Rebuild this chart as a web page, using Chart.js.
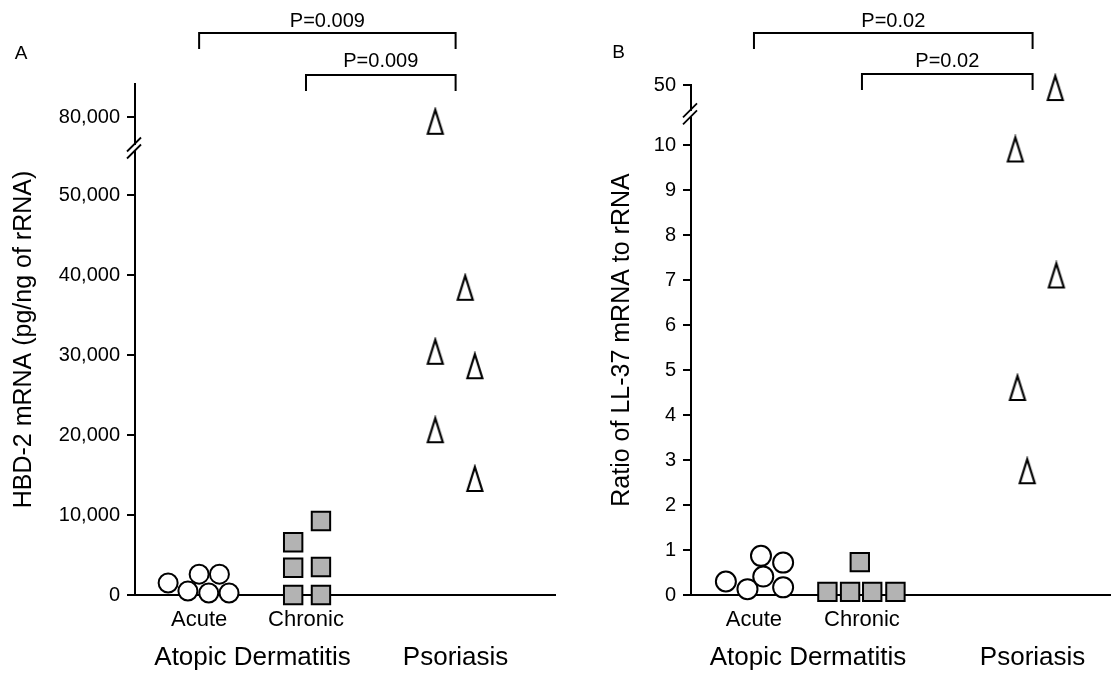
<!DOCTYPE html>
<html>
<head>
<meta charset="utf-8">
<script src="https://cdn.jsdelivr.net/npm/chart.js@4.4.1/dist/chart.umd.min.js"></script>
<style>
    html, body { margin: 0; padding: 0; background: #fff; }
    #caixaA { position: absolute; left: 0; top: 0; width: 556px; height: 675px; }
    #caixaB { position: absolute; left: 556px; top: 0; width: 555px; height: 675px; }
</style>
</head>
<body>
<div id="caixaA"><canvas id="graficoA"></canvas></div>
<div id="caixaB"><canvas id="graficoB"></canvas></div>
<script>

// ==========================
// Dados
// ==========================

const grupos = ["Acute", "Chronic", "Psoriasis"];

// Painel A - HBD-2 mRNA (pg/ng of rRNA)
const hbdAcute = [1500, 500, 2600, 250, 2600, 250];
const hbdAcuteDesvio = [-0.29, -0.105, 0, 0.09, 0.19, 0.28];
const hbdChronic = [6600, 3400, 0, 9250, 3500, 0];
const hbdChronicDesvio = [-0.12, -0.12, -0.12, 0.14, 0.14, 0.14];
const hbdPsoriasis = [79400, 38400, 30400, 28600, 20600, 14500];
const hbdPsoriasisDesvio = [-0.19, 0.09, -0.19, 0.18, -0.19, 0.18];
const ticksA = [0, 10000, 20000, 30000, 40000, 50000, 80000];

// Painel B - Ratio of LL-37 mRNA to rRNA
const llAcute = [0.30, 0.13, 0.87, 0.41, 0.72, 0.17];
const llAcuteDesvio = [-0.26, -0.06, 0.065, 0.086, 0.27, 0.27];
const llChronic = [0.07, 0.07, 0.73, 0.07, 0.07];
const llChronicDesvio = [-0.32, -0.11, -0.02, 0.095, 0.31];
const llPsoriasis = [48, 9.9, 7.1, 4.6, 2.75];
const llPsoriasisDesvio = [0.21, -0.16, 0.22, -0.14, -0.05];
const ticksB = [0, 1, 2, 3, 4, 5, 6, 7, 8, 9, 10, 50];

const fonte = "'Liberation Sans', Arial, Helvetica, sans-serif";

// eixo quebrado: acima da quebra os valores sao deslocados
function escalaA(v) {
    return v <= 50000 ? v : 59750 + (v - 80000);
}

function escalaB(v) {
    return v <= 10 ? v : 11.333 + (v - 50) / 30;
}

function criarTriangulo() {
    const c = document.createElement("canvas");
    c.width = 20;
    c.height = 30;
    const g = c.getContext("2d");
    g.lineWidth = 2.2;
    g.strokeStyle = "#000";
    g.fillStyle = "#fff";
    g.beginPath();
    g.moveTo(10, 3);
    g.lineTo(17.5, 27);
    g.lineTo(2.5, 27);
    g.closePath();
    g.fill();
    g.stroke();
    return c;
}

const triangulo = criarTriangulo();

function montarPontos(posicao, valores, desvios, escala) {
    return valores.map((v, i) => ({ x: posicao + desvios[i], y: escala(v) }));
}

function criarPainel(id, cfg) {

    const pos = cfg.posicoes;

    const anotacoes = {
        id: "anotacoes_" + id,
        afterDraw(chart) {
            const ctx = chart.ctx;
            const sx = chart.scales.x;
            const sy = chart.scales.y;
            ctx.save();
            ctx.strokeStyle = "#000";
            ctx.fillStyle = "#000";
            ctx.lineWidth = 2;

            // letra do painel
            ctx.font = "19px " + fonte;
            ctx.textAlign = "center";
            ctx.textBaseline = "middle";
            ctx.fillText(cfg.letra, cfg.letraX, cfg.letraY);

            // colchetes com valor de P
            ctx.font = "20px " + fonte;
            cfg.colchetes.forEach(b => {
                const x1 = sx.getPixelForValue(pos[b.de]);
                const x2 = sx.getPixelForValue(pos[b.ate]);
                ctx.beginPath();
                ctx.moveTo(x1, b.base);
                ctx.lineTo(x1, b.topo);
                ctx.lineTo(x2, b.topo);
                ctx.lineTo(x2, b.base);
                ctx.stroke();
                ctx.fillText(b.texto, (x1 + x2) / 2, b.textoY);
            });

            // rotulos das categorias
            ctx.font = "22px " + fonte;
            ctx.fillText(grupos[0], sx.getPixelForValue(pos[0]), 620);
            ctx.fillText(grupos[1], sx.getPixelForValue(pos[1]), 620);
            ctx.font = "26px " + fonte;
            ctx.fillText("Atopic Dermatitis", sx.getPixelForValue((pos[0] + pos[1]) / 2), 658);
            ctx.fillText(grupos[2], sx.getPixelForValue(pos[2]), 658);

            // quebra do eixo y
            const ax = sy.right - 1;
            const yq = sy.getPixelForValue(cfg.quebra);
            ctx.fillStyle = "#fff";
            ctx.fillRect(ax - 3, yq - 3, 6, 6);
            ctx.lineWidth = 1.8;
            [-3.5, 3.5].forEach(d => {
                ctx.beginPath();
                ctx.moveTo(ax - 7, yq + d + 7);
                ctx.lineTo(ax + 7, yq + d - 7);
                ctx.stroke();
            });
            ctx.restore();
        }
    };

    const ctx = document.getElementById(id).getContext("2d");

    return new Chart(ctx, {

        type: "scatter",

        data: {
            datasets: [
                {
                    data: montarPontos(pos[0], cfg.acute, cfg.acuteDesvio, cfg.escala),
                    pointStyle: "circle",
                    pointRadius: cfg.raioCirculo,
                    pointBackgroundColor: "#fff",
                    pointBorderColor: "#000",
                    pointBorderWidth: 2,
                    clip: false
                },
                {
                    data: montarPontos(pos[1], cfg.chronic, cfg.chronicDesvio, cfg.escala),
                    pointStyle: "rect",
                    pointRadius: 13,
                    pointBackgroundColor: "#b3b3b3",
                    pointBorderColor: "#000",
                    pointBorderWidth: 2,
                    clip: false
                },
                {
                    data: montarPontos(pos[2], cfg.psoriasis, cfg.psoriasisDesvio, cfg.escala),
                    pointStyle: triangulo,
                    pointRadius: 10,
                    clip: false
                }
            ]
        },

        options: {
            responsive: true,
            maintainAspectRatio: false,
            animation: false,
            events: [],
            layout: {
                autoPadding: false,
                padding: { top: cfg.topo, bottom: 80, left: 0, right: cfg.direita }
            },
            plugins: {
                legend: { display: false },
                tooltip: { enabled: false }
            },
            scales: {
                x: {
                    type: "linear",
                    min: cfg.xMin,
                    max: cfg.xMax,
                    ticks: { display: false },
                    grid: { display: false },
                    border: { display: true, color: "#000", width: 2 },
                    afterFit: s => { s.height = 0; }
                },
                y: {
                    type: "linear",
                    min: 0,
                    max: cfg.yMax,
                    afterBuildTicks: s => {
                        s.ticks = cfg.ticks.map(v => ({ value: cfg.escala(v) }));
                    },
                    afterFit: s => { s.width = 135; },
                    ticks: {
                        autoSkip: false,
                        color: "#000",
                        padding: 7,
                        font: { size: 20, family: fonte },
                        callback: (valor, i) => cfg.ticks[i].toLocaleString("en-US")
                    },
                    grid: {
                        drawOnChartArea: false,
                        drawTicks: true,
                        tickLength: 8,
                        color: "#000",
                        lineWidth: 2
                    },
                    border: { display: true, color: "#000", width: 2 },
                    title: {
                        display: true,
                        text: cfg.tituloY,
                        color: "#000",
                        font: { size: 25, family: fonte },
                        padding: { top: cfg.recuoTitulo, bottom: 0 }
                    }
                }
            }
        },

        plugins: [anotacoes]
    });
}

// ==========================
// Painel A
// ==========================

criarPainel("graficoA", {
    letra: "A", letraX: 21, letraY: 54,
    posicoes: [1, 2, 3.4],
    xMin: 0.40, xMax: 4.33,
    yMax: 63875,
    topo: 84, direita: 1,
    recuoTitulo: 9,
    escala: escalaA,
    ticks: ticksA,
    quebra: 55875,
    raioCirculo: 9.5,
    acute: hbdAcute, acuteDesvio: hbdAcuteDesvio,
    chronic: hbdChronic, chronicDesvio: hbdChronicDesvio,
    psoriasis: hbdPsoriasis, psoriasisDesvio: hbdPsoriasisDesvio,
    tituloY: "HBD-2 mRNA (pg/ng of rRNA)",
    colchetes: [
        { de: 0, ate: 2, topo: 33, base: 49, textoY: 21, texto: "P=0.009" },
        { de: 1, ate: 2, topo: 75, base: 91, textoY: 61, texto: "P=0.009" }
    ]
});

// ==========================
// Painel B
// ==========================

criarPainel("graficoB", {
    letra: "B", letraX: 62.5, letraY: 53,
    posicoes: [1, 2, 3.58],
    xMin: 0.417, xMax: 4.306,
    yMax: 11.333,
    topo: 85, direita: 0,
    recuoTitulo: 51,
    escala: escalaB,
    ticks: ticksB,
    quebra: 10.69,
    raioCirculo: 10,
    acute: llAcute, acuteDesvio: llAcuteDesvio,
    chronic: llChronic, chronicDesvio: llChronicDesvio,
    psoriasis: llPsoriasis, psoriasisDesvio: llPsoriasisDesvio,
    tituloY: "Ratio of LL-37 mRNA to rRNA",
    colchetes: [
        { de: 0, ate: 2, topo: 33, base: 49, textoY: 21, texto: "P=0.02" },
        { de: 1, ate: 2, topo: 74, base: 90, textoY: 61, texto: "P=0.02" }
    ]
});

</script>
</body>
</html>
